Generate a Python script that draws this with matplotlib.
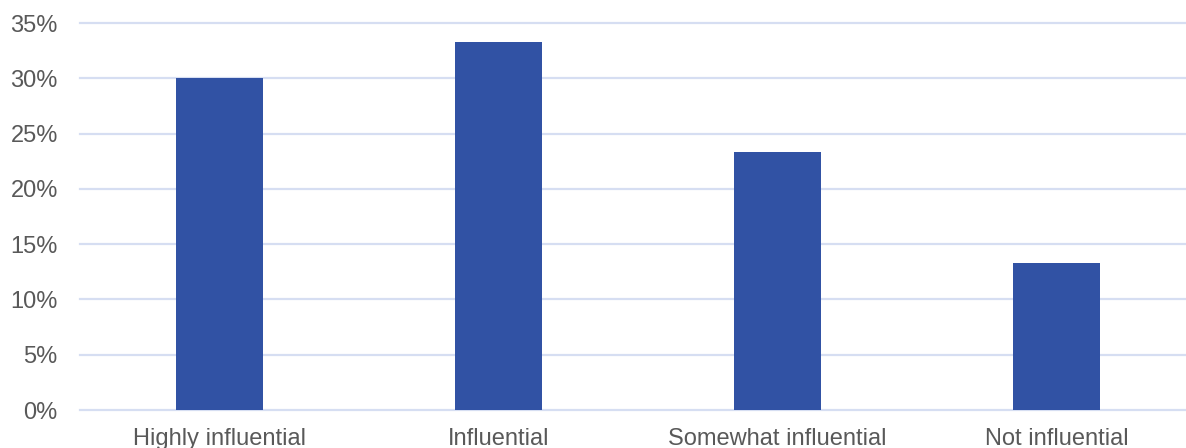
import matplotlib.pyplot as plt
from matplotlib.ticker import MultipleLocator, FuncFormatter

categories = ["Highly influential", "Influential", "Somewhat influential", "Not influential"]
shares = [30.0, 33.3, 23.3, 13.3]

plt.rcParams['font.family'] = ['Liberation Sans', 'DejaVu Sans']

W, H = 1186, 448
fig = plt.figure(figsize=(W / 100, H / 100), dpi=100)
# plot area runs a little past the right edge of the image
ax = fig.add_axes([80 / W, (H - 410) / H, 1116 / W, 387 / H])

x = range(len(categories))
ax.bar(x, shares, width=0.31, color="#3152A4", zorder=3)

ax.set_xlim(-0.5, len(categories) - 0.5)
ax.set_ylim(0, 35)
ax.yaxis.set_major_locator(MultipleLocator(5))
ax.yaxis.set_major_formatter(FuncFormatter(lambda v, p: f"{v:.0f}%"))
ax.set_xticks(list(x))
ax.set_xticklabels(categories)

ax.grid(axis="y", color="#D6DEF2", linewidth=1.6, zorder=0)
for gl in ax.get_ygridlines():
    gl.set_clip_on(False)
for s in ax.spines.values():
    s.set_visible(False)
ax.tick_params(axis="both", length=0, labelsize=17, labelcolor="#595959")
ax.tick_params(axis="y", pad=16)
ax.tick_params(axis="x", pad=13)

fig.savefig("out.png", dpi=100)
